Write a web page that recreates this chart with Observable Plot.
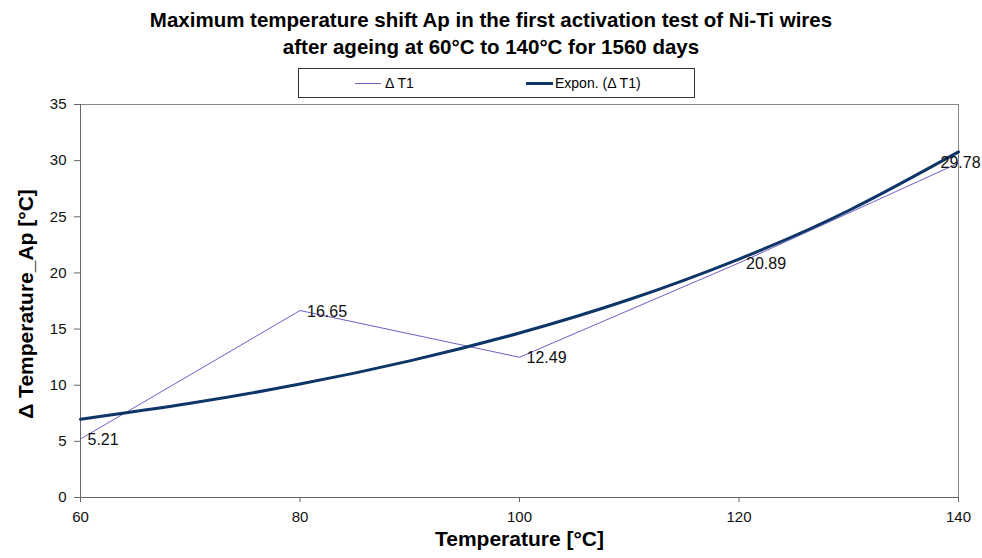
<!DOCTYPE html>
<html>
<head>
<meta charset="utf-8">
<script src="https://cdn.jsdelivr.net/npm/d3@7"></script>
<script src="https://cdn.jsdelivr.net/npm/@observablehq/plot@0.6"></script>
<style>
  html, body { margin: 0; padding: 0; background: #fff; }
  #wrap { position: relative; width: 982px; height: 558px; font-family: "Liberation Sans", Arial, sans-serif; background: #fff; }
  .title { position: absolute; left: 0; width: 982px; text-align: center; font-weight: bold; font-size: 20.5px; line-height: 24px; color: #000; z-index: 2; }
  #legend { position: absolute; left: 298px; top: 68px; width: 395px; height: 28px; border: 1px solid #333; box-sizing: content-box; font-size: 14px; background: #fff; z-index: 2; }
  .sw { position: absolute; top: 14px; height: 0; }
  .lt { position: absolute; top: 6px; }
  #chart { position: absolute; left: 0; top: 88px; z-index: 1; }
</style>
</head>
<body>
<div id="wrap">
  <div class="title" style="top:8px">Maximum temperature shift Ap in the first activation test of Ni-Ti wires</div>
  <div class="title" style="top:35px">after ageing at 60°C to 140°C for 1560 days</div>
  <div id="legend">
    <div class="sw" style="left:56px;width:26px;border-top:1px solid #6f5fc7"></div>
    <div class="lt" style="left:86px">Δ T1</div>
    <div class="sw" style="left:227px;width:27px;border-top:3px solid #0d3567;top:13px"></div>
    <div class="lt" style="left:256px">Expon. (Δ T1)</div>
  </div>
  <div id="chart"></div>
</div>
<script>
// Data
const temps = [60, 80, 100, 120, 140];
const deltaT1 = [5.21, 16.65, 12.49, 20.89, 29.78];
const labels = ["5.21", "16.65", "12.49", "20.89", "29.78"];
// Exponential trendline (Expon. (Δ T1)) values
const trendTemps = [60, 70, 80, 90, 100, 110, 120, 130, 140];
const trendValues = [6.97, 8.39, 10.10, 12.17, 14.65, 17.63, 21.23, 25.56, 30.78];
const xTicks = [60, 80, 100, 120, 140];
const yTicks = [0, 5, 10, 15, 20, 25, 30, 35];

const data = temps.map((t, i) => ({t, v: deltaT1[i], label: labels[i], last: i === temps.length - 1}));
const trend = trendTemps.map((t, i) => ({t, v: trendValues[i]}));

const chart = Plot.plot({
  width: 982,
  height: 470,
  marginLeft: 80,
  marginRight: 24,
  marginTop: 16,
  marginBottom: 61,
  style: {fontFamily: "'Liberation Sans', Arial, sans-serif", fontSize: "15px", color: "#000", background: "transparent", overflow: "visible"},
  x: {domain: [60, 140], label: null},
  y: {domain: [0, 35], label: null},
  marks: [
    Plot.frame({stroke: "#888", strokeWidth: 1}),
    Plot.axisX({ticks: xTicks, tickSize: 5, tickPadding: 9, stroke: "#666", fill: "#111", fontSize: 15, tickFormat: d => d, label: null}),
    Plot.axisY({ticks: yTicks, tickSize: 6, tickPadding: 8, stroke: "#666", fill: "#111", fontSize: 15, tickFormat: d => d, label: null}),
    Plot.ruleY([0], {stroke: "#666"}),
    Plot.ruleX([60], {stroke: "#666"}),
    Plot.line(data, {x: "t", y: "v", stroke: "#6f5fc7", strokeWidth: 1}),
    Plot.line(trend, {x: "t", y: "v", stroke: "#0d3567", strokeWidth: 3, curve: "natural"}),
    Plot.text(data.filter(d => !d.last), {x: "t", y: "v", text: "label", textAnchor: "start", dx: 7, dy: 1, fontSize: 16, fill: "#111"}),
    Plot.text(data.filter(d => d.last), {x: "t", y: "v", text: "label", textAnchor: "start", dx: -18, dy: 0, fontSize: 16, fill: "#111"}),
    Plot.text(["Temperature [°C]"], {frameAnchor: "bottom", dy: 48, text: d => d, fontSize: 21, fontWeight: "bold", fill: "#000"}),
    Plot.text(["Δ Temperature_Ap [°C]"], {frameAnchor: "left", textAnchor: "middle", dx: -54, dy: 3, rotate: -90, text: d => d, fontSize: 21, fontWeight: "bold", fill: "#000"})
  ]
});
document.getElementById("chart").appendChild(chart);
</script>
</body>
</html>
